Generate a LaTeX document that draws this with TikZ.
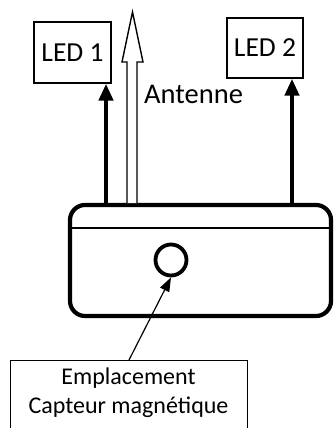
\documentclass[tikz,border=0pt]{standalone}
\usepackage{fontspec}
\setmainfont{Carlito}
\usetikzlibrary{arrows.meta}
\tikzset{
  ledbox/.style={draw, line width=1.3pt, inner sep=0pt, font=\fontsize{27.5}{30}\selectfont},
  thickarrow/.style={line width=4.2pt, -{Triangle[length=17pt,width=14pt]}},
  thinarrow/.style={line width=1.2pt, -{Triangle[length=14pt,width=10pt]}},
  lbltext/.style={font=\fontsize{24}{29}\selectfont, anchor=base, inner sep=0pt},
}
\begin{document}
\begin{tikzpicture}[x=1pt,y=-1pt]
\useasboundingbox (0,0) rectangle (334,428);
\clip (0,0) rectangle (334,428);
% LED boxes
\node[ledbox, minimum width=77pt, minimum height=61pt] (led1) at (72.5,52.5) {LED 1};
\node[ledbox, minimum width=76pt, minimum height=60pt] (led2) at (265,48) {LED 2};
% body
\draw[line width=4.2pt, rounded corners=15pt] (70,205) rectangle (331,316);
\coordinate (btop1) at (106,205);
\coordinate (btop2) at (292,205);
\draw[line width=2pt] (70,228) -- (331,228);
% sensor circle
\node[draw, circle, line width=3.8pt, minimum size=31pt, inner sep=0pt] (sensor) at (171,260) {};
% LED arrows
\draw[thickarrow] (btop1) -- (led1.south -| btop1);
\draw[thickarrow] (btop2) -- (led2.south -| btop2);
% antenna hollow arrow
\draw[line width=1.4pt, fill=white] (127,203) -- (127,62) -- (122,62) -- (132.5,12) -- (143,62) -- (137,62) -- (137,203);
\node[anchor=base west, font=\fontsize{28.5}{30}\selectfont, inner sep=0pt] (ant) at (144,103) {Antenne};
% label box
\node[draw, line width=1.2pt, anchor=north west, minimum width=237pt, minimum height=80pt, inner sep=0pt] (lbl) at (10,360) {};
\node[lbltext] (l1) at (128.5,384) {Emplacement};
\node[lbltext] (l2) at (128.5,413) {Capteur magnétique};
\coordinate (lp) at (129,360);
\draw[thinarrow] (lp) -- (sensor.south);
\end{tikzpicture}
\end{document}
